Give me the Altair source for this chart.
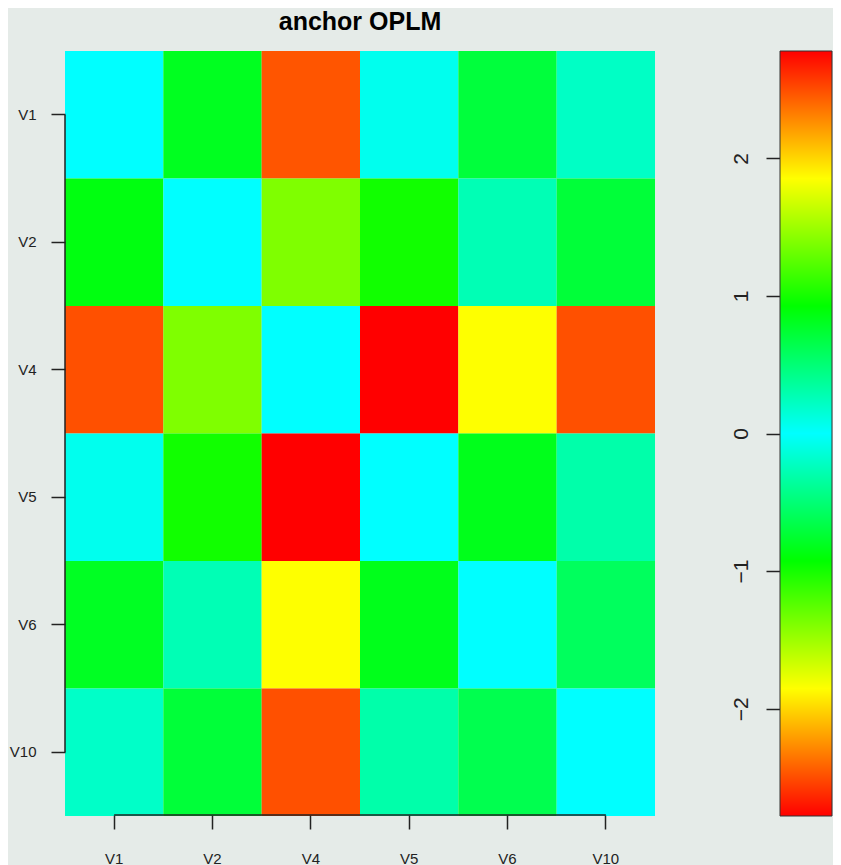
import altair as alt
import pandas as pd

# ---- data ----
rows = ["V1", "V2", "V4", "V5", "V6", "V10"]
cols = ["V1", "V2", "V4", "V5", "V6", "V10"]
r_V1 = [0.00, 0.81, 2.47, 0.06, 0.71, 0.21]
r_V2 = [0.87, 0.00, 1.39, 0.99, 0.27, 0.72]
r_V4 = [2.49, 1.39, 0.00, 2.78, 1.85, 2.49]
r_V5 = [0.06, 0.99, 2.78, 0.00, 0.83, 0.31]
r_V6 = [0.80, 0.27, 1.85, 0.83, 0.00, 0.59]
r_V10 = [0.20, 0.72, 2.49, 0.31, 0.64, 0.00]
legend_ticks = [-2, -1, 0, 1, 2]
palette = ["#ff0000", "#ffff00", "#00ff00", "#00ffff", "#00ff00", "#ffff00", "#ff0000"]
title_text = "anchor OPLM"

matrix = [r_V1, r_V2, r_V4, r_V5, r_V6, r_V10]
records = []
for rname, vals in zip(rows, matrix):
    for cname, v in zip(cols, vals):
        records.append({"row": rname, "col": cname, "value": v})
df = pd.DataFrame(records)

lim = float(df["value"].abs().max())
dom = [-lim, -2 * lim / 3, -lim / 3, 0.0, lim / 3, 2 * lim / 3, lim]
color_scale = alt.Scale(domain=dom, range=palette, interpolate="rgb")

FONT = "Liberation Sans"
INK = "#222222"
W, H = 590, 765

xscale = alt.Scale(domain=cols, paddingInner=0, paddingOuter=0)
yscale = alt.Scale(domain=rows, paddingInner=0, paddingOuter=0)

xaxis = alt.Axis(title=None, domain=False, ticks=True, tickSize=14, tickWidth=1.5,
                 tickColor=INK, labelFontSize=15, labelPadding=22, labelColor=INK,
                 labelAngle=0, labelFont=FONT, offset=-1, grid=False)
yaxis = alt.Axis(title=None, domain=False, ticks=True, tickSize=14, tickWidth=1.5,
                 tickColor=INK, labelFontSize=15, labelPadding=15, labelColor=INK,
                 labelFont=FONT, grid=False)

heat = alt.Chart(df).mark_rect().encode(
    x=alt.X("col:N", scale=xscale, axis=xaxis, sort=cols),
    y=alt.Y("row:N", scale=yscale, axis=yaxis, sort=rows),
    fill=alt.Fill("value:Q", scale=color_scale, legend=None),
)

ends = pd.DataFrame({"col": [cols[0]], "col_end": [cols[-1]],
                     "row": [rows[0]], "row_end": [rows[-1]]})
xrule = alt.Chart(ends).mark_rule(color=INK, strokeWidth=1.5).encode(
    x=alt.X("col:N", scale=xscale, axis=xaxis, sort=cols),
    x2="col_end:N",
    y=alt.value(H - 1),
)
yrule = alt.Chart(ends).mark_rule(color=INK, strokeWidth=1.5).encode(
    y=alt.Y("row:N", scale=yscale, axis=yaxis, sort=rows),
    y2="row_end:N",
    x=alt.value(0),
)

main = alt.layer(heat, xrule, yrule).properties(
    width=W, height=H,
    title=alt.Title(title_text, fontSize=25, fontWeight="bold", font=FONT,
                    anchor="middle", baseline="alphabetic", offset=-4, color="black"),
)

cb_df = pd.DataFrame({"lo": [-lim], "hi": [lim]})
grad = alt.Gradient(
    gradient="linear",
    stops=[alt.GradientStop(color=c, offset=i / (len(palette) - 1)) for i, c in enumerate(palette)],
    x1=0, x2=0, y1=0, y2=1,
)
cbar = alt.Chart(cb_df).mark_rect(fill=grad, stroke="#333333", strokeWidth=1).encode(
    y=alt.Y("lo:Q", scale=alt.Scale(domain=[-lim, lim], nice=False, zero=False),
            axis=alt.Axis(title=None, values=legend_ticks, domain=False, grid=False,
                          tickSize=14, tickWidth=1.5, tickColor=INK, labelFontSize=21,
                          labelAngle=270, labelAlign="center", labelBaseline="alphabetic",
                          labelPadding=19, labelColor=INK, labelFont=FONT, format="d")),
    y2="hi:Q",
).properties(width=52, height=H)

chart = alt.hconcat(main, cbar, spacing=125, bounds="flush").configure(
    background="#e5ebe8", padding={"left": 1, "top": 2, "right": 0, "bottom": 0}, font=FONT
).configure_view(stroke=None)

chart.save("out.html", embed_options={"renderer": "svg", "actions": False})
